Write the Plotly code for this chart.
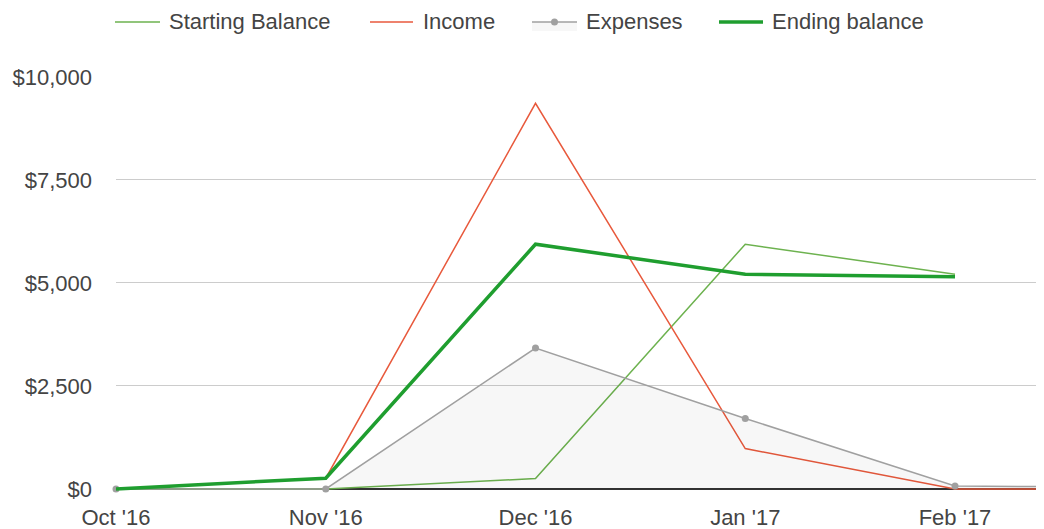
import plotly.graph_objects as go

months = ["Oct '16", "Nov '16", "Dec '16", "Jan '17", "Feb '17", "Mar '17"]
starting_balance = [0, 0, 250, 5940, 5210, None]
income = [0, 260, 9360, 980, 0, 0]
expenses = [0, 0, 3420, 1710, 70, 40]
ending_balance = [0, 260, 5940, 5210, 5150, None]
y_ticks = [0, 2500, 5000, 7500, 10000]
y_tick_labels = ["$0", "$2,500", "$5,000", "$7,500", "$10,000"]

FONT = "Liberation Sans, Arial, sans-serif"
TXT = "#444444"

# page body has an 8px margin: the figure is laid out for that offset
W, H = 1036, 521
ML, MT, MB, MR = 108, 69, 37, 0
PW = W - ML - MR
PH = H - MT - MB

def px(page_x):
    return (page_x - 8 - ML) / PW

def py(page_y):
    return (H - MB - (page_y - 8)) / PH

styles = {
    "Starting Balance": dict(color="#6db24f", width=1.5),
    "Income": dict(color="#e8593c", width=1.5),
    "Expenses": dict(color="#a0a0a0", width=1.5),
    "Ending balance": dict(color="#1f9e2f", width=3.5),
}

fig = go.Figure()
fig.add_trace(go.Scatter(x=months, y=starting_balance, name="Starting Balance", mode="lines",
                         line=styles["Starting Balance"]))
fig.add_trace(go.Scatter(x=months, y=income, name="Income", mode="lines",
                         line=styles["Income"]))
fig.add_trace(go.Scatter(x=months, y=expenses, name="Expenses", mode="lines+markers",
                         line=styles["Expenses"],
                         marker=dict(color="#a0a0a0", size=7),
                         fill="tozeroy", fillcolor="rgba(0,0,0,0.03)", cliponaxis=False))
fig.add_trace(go.Scatter(x=months, y=ending_balance, name="Ending balance", mode="lines",
                         line=styles["Ending balance"]))

# custom legend laid out like the reference
legend_items = [
    ("Starting Balance", 115, 160, 168),
    ("Income", 370, 413, 422),
    ("Expenses", 532, 577, 585),
    ("Ending balance", 719, 763, 771),
]
ly = 22
shapes = []
annotations = []
for name, x0, x1, xt in legend_items:
    if name == "Expenses":
        shapes.append(dict(type="rect", xref="paper", yref="paper",
                           x0=px(x0), x1=px(x1), y0=py(31), y1=py(ly),
                           fillcolor="rgba(0,0,0,0.03)", line=dict(width=0), layer="above"))
    shapes.append(dict(type="line", xref="paper", yref="paper",
                       x0=px(x0), x1=px(x1), y0=py(ly), y1=py(ly),
                       line=dict(color=styles[name]["color"], width=styles[name]["width"]),
                       layer="above"))
    if name == "Expenses":
        cx = (x0 + x1) / 2
        shapes.append(dict(type="circle", xref="paper", yref="paper",
                           x0=px(cx - 3.5), x1=px(cx + 3.5), y0=py(ly + 3.5), y1=py(ly - 3.5),
                           fillcolor="#a0a0a0", line=dict(width=0), layer="above"))
    annotations.append(dict(text=name, xref="paper", yref="paper", x=px(xt), y=py(ly),
                            xanchor="left", yanchor="middle", showarrow=False,
                            font=dict(family=FONT, size=22, color=TXT), borderpad=0))

fig.update_layout(
    width=W, height=H,
    margin=dict(l=ML, r=MR, t=MT, b=MB),
    paper_bgcolor="white", plot_bgcolor="white",
    font=dict(family=FONT, size=22, color=TXT),
    showlegend=False,
    shapes=shapes,
    annotations=annotations,
    xaxis=dict(range=[0, 928 / 209.75], showgrid=False, zeroline=False, showline=False,
               ticks="", tickfont=dict(size=22, color=TXT), ticklabelstandoff=10),
    yaxis=dict(range=[-75, 10000], tickvals=y_ticks, ticktext=y_tick_labels,
               showgrid=True, gridcolor="#cccccc", gridwidth=1,
               zeroline=True, zerolinecolor="#333333", zerolinewidth=1.5,
               showline=False, ticks="", ticklabelstandoff=23,
               tickfont=dict(size=22, color=TXT)),
)

fig.write_html("out.html")
